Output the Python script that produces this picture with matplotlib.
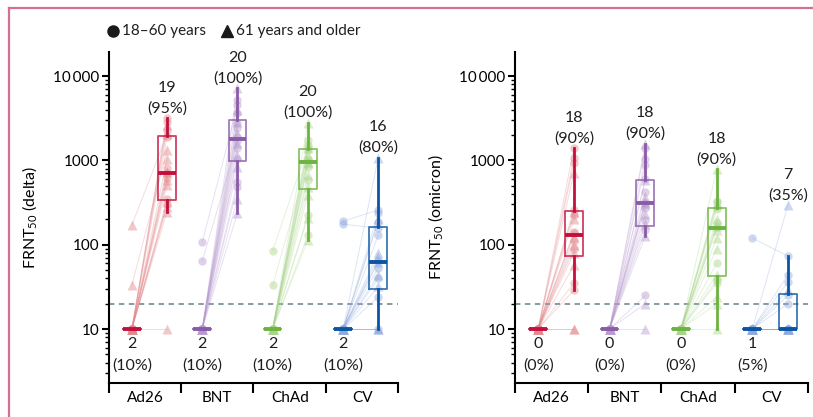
import matplotlib.pyplot as plt
import numpy as np
from matplotlib import cbook
from matplotlib.lines import Line2D

plt.rcParams['font.family'] = ['Lato', 'DejaVu Sans']
plt.rcParams['mathtext.default'] = 'regular'
plt.rcParams['text.color'] = '#1e1e1e'

VACCINES = ['Ad26', 'BNT', 'ChAd', 'CV']
MAIN = ['#c40f3d', '#8a5ca8', '#6cb33f', '#0a55a3']
LIGHT = ['#e2888c', '#b89ad0', '#a9d58a', '#8fa9dc']
THRESHOLD = 20

# ---- delta: FRNT50 before / after, age group (0 = 18-60, 1 = 61+) ----
AD26_DELTA_PRE = [10, 10, 10, 10, 170, 10, 33, 10, 10, 10, 10, 10, 10, 10, 10, 10, 10, 10, 10, 10]
AD26_DELTA_POST = [3160, 2880, 2620, 2280, 2050, 1900, 1330, 1040, 810, 720, 700, 615, 590, 510,
                   345, 320, 300, 283, 247, 10]
AD26_DELTA_AGE = [0, 0, 1, 0, 1, 0, 1, 1, 0, 1, 0, 0, 1, 1, 0, 1, 0, 1, 1, 1]

BNT_DELTA_PRE = [10, 10, 108, 10, 10, 10, 10, 10, 10, 10, 64, 10, 10, 10, 10, 10, 10, 10, 10, 10]
BNT_DELTA_POST = [7200, 5200, 4500, 4000, 3600, 2850, 2800, 2400, 2100, 1900, 1700, 1600, 1400, 1160,
                  1050, 840, 560, 485, 350, 240]
BNT_DELTA_AGE = [1, 0, 0, 1, 0, 1, 0, 0, 1, 0, 0, 1, 0, 1, 0, 1, 0, 0, 1, 1]

CHAD_DELTA_PRE = [10, 10, 10, 85, 10, 10, 10, 10, 33, 10, 10, 10, 10, 10, 10, 10, 10, 10, 10, 10]
CHAD_DELTA_POST = [2800, 1740, 1520, 1450, 1400, 1340, 1160, 1050, 980, 960, 940, 840, 670, 590,
                   480, 390, 225, 210, 130, 114]
CHAD_DELTA_AGE = [1, 0, 0, 0, 1, 0, 1, 0, 0, 1, 1, 0, 1, 0, 1, 1, 0, 1, 0, 1]

CV_DELTA_PRE = [10, 190, 10, 10, 10, 175, 10, 10, 10, 10, 10, 10, 10, 10, 10, 10, 10, 10, 10, 10]
CV_DELTA_POST = [1080, 258, 237, 200, 188, 157, 130, 80, 72, 64, 62, 53, 44, 40, 32, 24, 10, 10, 10, 10]
CV_DELTA_AGE = [1, 0, 0, 1, 0, 0, 0, 1, 1, 0, 1, 0, 1, 0, 1, 0, 1, 1, 0, 1]

# ---- omicron ----
AD26_OMI_PRE = [10] * 20
AD26_OMI_POST = [1390, 1060, 920, 700, 260, 247, 225, 200, 140, 136, 124, 110, 99, 90, 80, 57, 35, 29, 10, 10]
AD26_OMI_AGE = [0, 0, 0, 1, 0, 1, 0, 1, 0, 0, 1, 0, 1, 0, 1, 1, 0, 0, 1, 1]

BNT_OMI_PRE = [10] * 20
BNT_OMI_POST = [1570, 1390, 1030, 880, 600, 580, 420, 370, 325, 315, 305, 270, 230, 196, 175, 150, 127,
                25, 20, 10]
BNT_OMI_AGE = [1, 0, 0, 0, 0, 1, 0, 1, 1, 0, 1, 0, 1, 0, 1, 0, 1, 0, 1, 1]

CHAD_OMI_PRE = [10] * 20
CHAD_OMI_POST = [780, 330, 320, 300, 280, 265, 200, 180, 165, 162, 150, 119, 90, 60, 44, 38, 35, 24, 20, 10]
CHAD_OMI_AGE = [1, 0, 0, 1, 0, 0, 1, 0, 1, 0, 1, 1, 1, 0, 1, 0, 0, 1, 1, 1]

CV_OMI_PRE = [10, 120, 10, 10, 10, 10, 10, 10, 10, 10, 10, 10, 10, 10, 10, 10, 10, 10, 10, 10]
CV_OMI_POST = [295, 73, 44, 36, 29, 25, 20, 10, 10, 10, 10, 10, 10, 10, 10, 10, 10, 10, 10, 10]
CV_OMI_AGE = [1, 0, 0, 0, 1, 0, 0, 1, 0, 1, 0, 1, 1, 0, 1, 0, 1, 0, 1, 1]

# counts above threshold
DELTA_PRE_N = [2, 2, 2, 2]
DELTA_PRE_PCT = [10, 10, 10, 10]
DELTA_POST_N = [19, 20, 20, 16]
DELTA_POST_PCT = [95, 100, 100, 80]
OMI_PRE_N = [0, 0, 0, 1]
OMI_PRE_PCT = [0, 0, 0, 5]
OMI_POST_N = [18, 18, 18, 7]
OMI_POST_PCT = [90, 90, 90, 35]

SEPS = [-0.65, 1.4, 3.45, 5.52, 7.56]
YLIM = (2.29, 19270)
FRAME = '#d56f8e'


def log_stats(vals):
    st = cbook.boxplot_stats(np.log10(vals), whis=1.5)[0]
    for k in ('med', 'q1', 'q3', 'whislo', 'whishi', 'mean', 'cilo', 'cihi'):
        st[k] = 10 ** st[k]
    st['fliers'] = 10 ** np.asarray(st['fliers'])
    return st


def draw_panel(ax, pre, post, ages, pre_n, pre_pct, post_n, post_pct, ylabel):
    for i in range(4):
        x0, x1 = 2 * i, 2 * i + 1
        light, main = LIGHT[i], MAIN[i]
        for a, b in zip(pre[i], post[i]):
            ax.plot([x0, x1], [a, b], color=light, lw=0.7, alpha=0.3, zorder=1)
        for a, b, g in zip(pre[i], post[i], ages[i]):
            m = '^' if g else 'o'
            ms = 6.5 if g else 6
            ax.plot([x0, x1], [a, b], ls='none', marker=m, ms=ms, mfc=light,
                    mec='none', alpha=0.45, zorder=2)
        for x, vals in ((x0, pre[i]), (x1, post[i])):
            ax.bxp([log_stats(vals)], positions=[x], widths=0.5, showfliers=False,
                   showcaps=False,
                   boxprops=dict(color=main, lw=1.3, alpha=0.8),
                   medianprops=dict(color=main, lw=2.8, solid_capstyle='butt'),
                   whiskerprops=dict(color=main, lw=2.0), zorder=4)
        ax.annotate(f'{post_n[i]}\n({post_pct[i]}%)', xy=(x1, max(post[i])),
                    xytext=(0, 2), textcoords='offset points',
                    ha='center', va='bottom', fontsize=11.5, linespacing=1.55)
        ax.annotate(f'{pre_n[i]}\n({pre_pct[i]}%)', xy=(x0, 10),
                    xytext=(0, -6), textcoords='offset points',
                    ha='center', va='top', fontsize=11.5, linespacing=1.6)

    ax.axhline(THRESHOLD, color='#7d9399', ls=(0, (3, 2.5)), lw=1.3, zorder=0)
    ax.set_yscale('log')
    ax.set_ylim(*YLIM)
    ax.set_xlim(SEPS[0], SEPS[-1])
    ax.set_yticks([10, 100, 1000, 10000])
    ax.set_yticklabels(['10', '100', '1000', '10\u2009000'], fontsize=11)
    ax.tick_params(axis='y', which='major', length=5, width=1.5, pad=2)
    ax.tick_params(axis='y', which='minor', length=3, width=1.0)
    ax.set_xticks(SEPS)
    ax.set_xticklabels([])
    ax.tick_params(axis='x', which='major', length=7, width=1.5)
    centers = [(SEPS[k] + SEPS[k + 1]) / 2 for k in range(4)]
    ax.set_xticks(centers, VACCINES, minor=True)
    ax.tick_params(axis='x', which='minor', length=0, pad=6, labelsize=11)
    for s in ('top', 'right'):
        ax.spines[s].set_visible(False)
    for s in ('left', 'bottom'):
        ax.spines[s].set_linewidth(1.5)
    ax.set_ylabel(ylabel, fontsize=11.5, labelpad=10)


fig = plt.figure(figsize=(8.13, 4.17), dpi=100)
W, H = 813, 417
ax1 = fig.add_axes([109 / W, 34 / H, 289 / W, 331 / H])
ax2 = fig.add_axes([515 / W, 34 / H, 293 / W, 331 / H])

draw_panel(ax1,
           [AD26_DELTA_PRE, BNT_DELTA_PRE, CHAD_DELTA_PRE, CV_DELTA_PRE],
           [AD26_DELTA_POST, BNT_DELTA_POST, CHAD_DELTA_POST, CV_DELTA_POST],
           [AD26_DELTA_AGE, BNT_DELTA_AGE, CHAD_DELTA_AGE, CV_DELTA_AGE],
           DELTA_PRE_N, DELTA_PRE_PCT, DELTA_POST_N, DELTA_POST_PCT,
           'FRNT$_{50}$ (delta)')
draw_panel(ax2,
           [AD26_OMI_PRE, BNT_OMI_PRE, CHAD_OMI_PRE, CV_OMI_PRE],
           [AD26_OMI_POST, BNT_OMI_POST, CHAD_OMI_POST, CV_OMI_POST],
           [AD26_OMI_AGE, BNT_OMI_AGE, CHAD_OMI_AGE, CV_OMI_AGE],
           OMI_PRE_N, OMI_PRE_PCT, OMI_POST_N, OMI_POST_PCT,
           'FRNT$_{50}$ (omicron)')

# legend
fig.add_artist(Line2D([113 / W], [1 - 31 / H], marker='o', ms=8, color='#1a1a1a', ls='none'))
fig.text(122 / W, 1 - 31 / H, '18\u201360 years', fontsize=11, va='center')
fig.add_artist(Line2D([227 / W], [1 - 31 / H], marker='^', ms=8, color='#1a1a1a', ls='none'))
fig.text(236 / W, 1 - 31 / H, '61 years and older', fontsize=11, va='center')

# frame
fig.add_artist(Line2D([8.5 / W, 8.5 / W], [0, 1 - 7.5 / H], color=FRAME, lw=1.6))
fig.add_artist(Line2D([8.5 / W, 1], [1 - 7.5 / H, 1 - 7.5 / H], color=FRAME, lw=1.6))

fig.savefig('out.png', dpi=100, facecolor='white')
